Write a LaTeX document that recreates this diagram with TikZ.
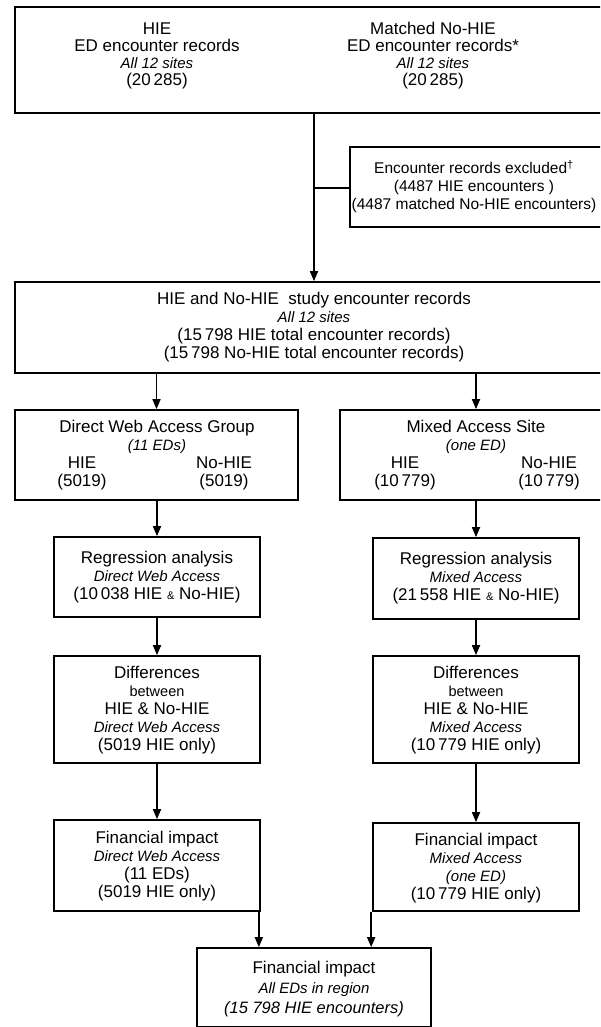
\documentclass[tikz,border=0pt]{standalone}
\usepackage{fontspec}
\setmainfont{Liberation Sans}
\usetikzlibrary{arrows.meta}
\newcommand{\itf}{\fontsize{15}{18}\selectfont\itshape}
\newcommand{\smamp}{{\fontsize{11}{11}\selectfont\&}}
\begin{document}
\begin{tikzpicture}[x=1pt,y=-1pt,
  box/.style={draw, line width=1.7pt, inner sep=0pt},
  txt/.style={align=center, font=\fontsize{17}{18}\selectfont, inner sep=0pt},
  arr/.style={line width=1.7pt, -{Triangle[length=10pt,width=8pt]}},
  ln/.style={line width=1.7pt}]
\useasboundingbox (0,0) rectangle (600,1027);
\clip (0,0) rectangle (600,1027);
% boxes
\node[box, minimum width=598pt, minimum height=106pt] (top) at (314,60) {};
\node[box, minimum width=256pt, minimum height=80pt] (excl) at (478,187) {};
\node[box, minimum width=598pt, minimum height=91pt] (study) at (314,327.5) {};
\node[box, minimum width=283pt, minimum height=90pt] (direct) at (156.5,455) {};
\node[box, minimum width=272pt, minimum height=90pt] (mixed) at (476,455) {};
\node[box, minimum width=206pt, minimum height=80pt] (regL) at (157,577) {};
\node[box, minimum width=206pt, minimum height=81pt] (regR) at (476,578.5) {};
\node[box, minimum width=206pt, minimum height=107pt] (difL) at (157,709.5) {};
\node[box, minimum width=206pt, minimum height=107pt] (difR) at (476,709.5) {};
\node[box, minimum width=206pt, minimum height=91pt] (finL) at (157,865.5) {};
\node[box, minimum width=206pt, minimum height=88pt] (finR) at (476,867) {};
\node[box, minimum width=234pt, minimum height=79pt] (bot) at (314,987.5) {};
% texts
\node[txt, font=\fontsize{17}{17}\selectfont] (topL) at (157,56) {HIE\\ED encounter records\\{\itf All 12 sites}\\(20\,285)};
\node[txt, font=\fontsize{17}{17}\selectfont] (topR) at (433,56) {Matched No-HIE\\ED encounter records*\\{\itf All 12 sites}\\(20\,285)};
\node[txt, font=\fontsize{15.5}{18}\selectfont] (exclT) at (474,187) {Encounter records excluded\textsuperscript{†}\\(4487 HIE encounters )\\(4487 matched No-HIE encounters)};
\node[txt] (studyT) at (314,327.5) {HIE and No-HIE\ \ study encounter records\\{\itf All 12 sites}\\(15\,798 HIE total encounter records)\\(15\,798 No-HIE total encounter records)};
\node[txt] (directT) at (157,437) {Direct Web Access Group\\{\itf (11 EDs)}};
\node[txt] (directA) at (82,473) {HIE\\(5019)};
\node[txt] (directB) at (224,473) {No-HIE\\(5019)};
\node[txt] (mixedT) at (476,437) {Mixed Access Site\\{\itf (one ED)}};
\node[txt] (mixedA) at (405,473) {HIE\\(10\,779)};
\node[txt] (mixedB) at (549,473) {No-HIE\\(10\,779)};
\node[txt] (regLT) at (157,577) {Regression analysis\\{\itf Direct Web Access}\\(10\,038 HIE \smamp{} No-HIE)};
\node[txt] (regRT) at (476,578.5) {Regression analysis\\{\itf Mixed Access}\\(21\,558 HIE \smamp{} No-HIE)};
\node[txt] (difLT) at (157,710) {Differences\\{\fontsize{14.5}{18}\selectfont between}\\HIE \& No-HIE\\{\itf Direct Web Access}\\(5019 HIE only)};
\node[txt] (difRT) at (476,710) {Differences\\{\fontsize{14.5}{18}\selectfont between}\\HIE \& No-HIE\\{\itf Mixed Access}\\(10\,779 HIE only)};
\node[txt] (finLT) at (157,866.5) {Financial impact\\{\itf Direct Web Access}\\(11 EDs)\\(5019 HIE only)};
\node[txt] (finRT) at (476,868) {Financial impact\\{\itf Mixed Access}\\{\itf (one ED)}\\(10\,779 HIE only)};
\node[txt, font=\fontsize{17}{20}\selectfont] (botT) at (314,989.5) {Financial impact\\{\itf All EDs in region}\\{\fontsize{16.5}{20}\selectfont\itshape (15 798 HIE encounters)}};
% connectors
\draw[arr] (top.south) -- (study.north);
\coordinate (br) at (314,188);
\draw[ln] (br) -- (br -| excl.west);
\draw[arr] (study.south -| direct.north) -- (direct.north);
\draw[arr] (study.south -| mixed.north) -- (mixed.north);
\draw[arr] (direct.south -| regL.north) -- (regL.north);
\draw[arr] (mixed.south -| regR.north) -- (regR.north);
\draw[arr] (regL.south) -- (difL.north);
\draw[arr] (regR.south) -- (difR.north);
\draw[arr] (difL.south) -- (finL.north);
\draw[arr] (difR.south) -- (finR.north);
\draw[arr] ([xshift=-2pt]finL.south east) -- ([xshift=-2pt]finL.south east |- bot.north);
\draw[arr] ([xshift=-1pt]finR.south west) -- ([xshift=-1pt]finR.south west |- bot.north);
\end{tikzpicture}
\end{document}
